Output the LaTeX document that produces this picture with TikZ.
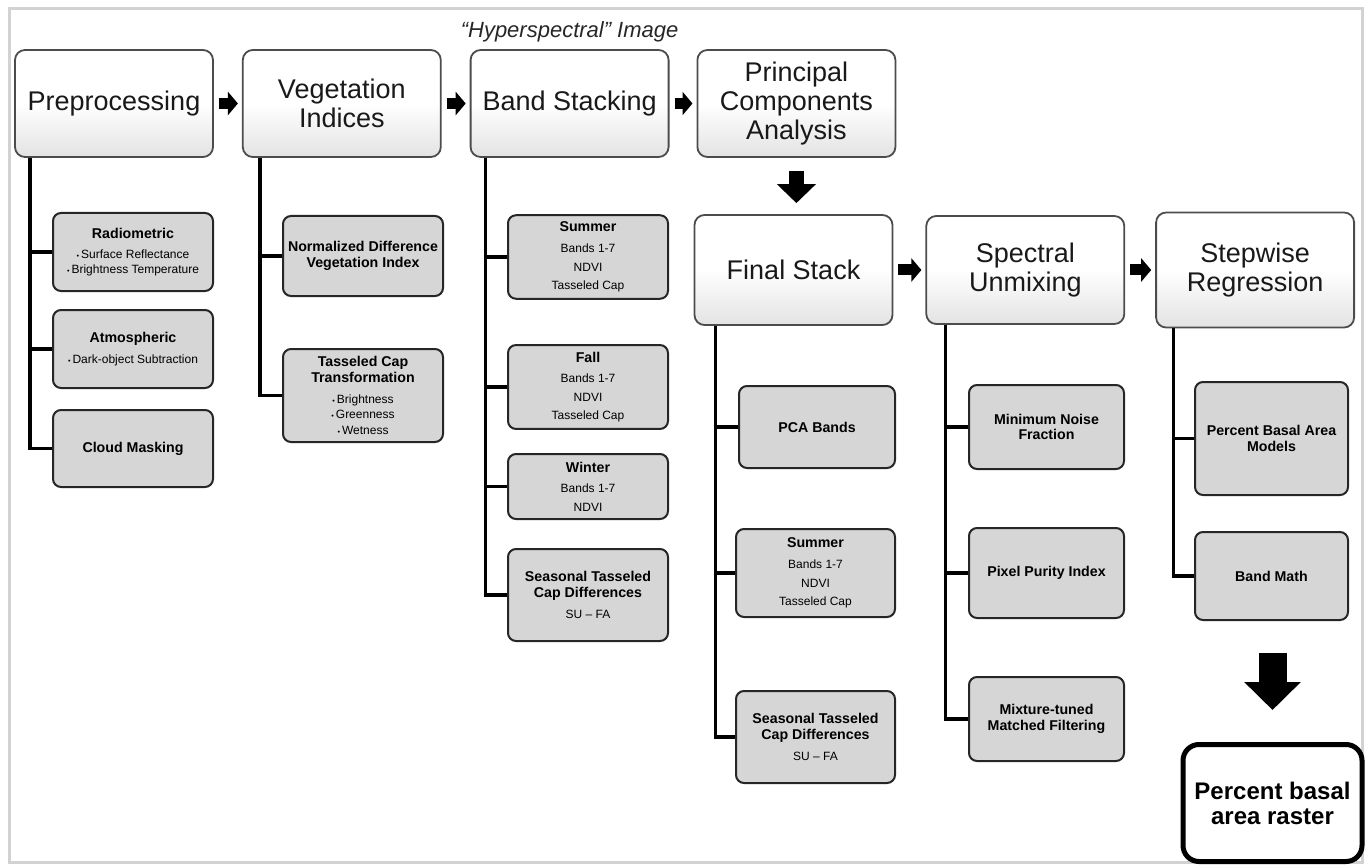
\documentclass[tikz,border=0pt]{standalone}
\usepackage{fontspec}
\setmainfont{Liberation Sans}
\usetikzlibrary{arrows.meta,positioning}

\newcommand\headfont{\fontsize{13.5}{14.5}\selectfont}
\newcommand\subfont{\bfseries\fontsize{7.1}{7.8}\selectfont}
\newcommand\smtxt[1]{{\normalfont\fontsize{6}{7.5}\selectfont #1}}
\newcommand\bul{\scalebox{0.6}{\textbullet}\,}

\begin{document}
\begin{tikzpicture}[x=0.5pt, y=-0.5pt,
    head/.style={rectangle, draw=gray!60!black, line width=0.9pt, rounded corners=5pt, top color=white, bottom color=gray!22, middle color=white, minimum width=99pt, minimum height=53.5pt, align=center, font=\headfont, text=black!90},
    sub/.style={rectangle, draw=black!85, line width=1pt, rounded corners=4pt, fill=gray!32, minimum width=80pt, inner xsep=1pt, align=center, font=\subfont},
    result/.style={rectangle, draw=black, line width=2.5pt, rounded corners=8pt, fill=white, minimum width=89.5pt, minimum height=58.5pt, align=center, font=\bfseries\fontsize{12}{12.5}\selectfont},
    tree/.style={draw, line width=1.7pt},
    sidearrow/.style={draw, line width=5.5pt, -{Triangle[length=5pt, width=11.5pt]}, shorten <=2.5pt, shorten >=2pt},
    downarrow/.style={draw, line width=7.5pt, -{Triangle[length=9.5pt, width=19pt]}, shorten <=6.5pt, shorten >=5.5pt},
    bigarrow/.style={draw, line width=14pt, -{Triangle[length=14pt, width=27.5pt]}}]

    \useasboundingbox (0,0) rectangle (1370,866);
    \draw[gray!35, line width=1.5pt] (9,9) rectangle (1362,862);

    \node [head] (pre) at (114,103.5) {Preprocessing};
    \node [head, right=14pt of pre] (veg) {Vegetation\\Indices};
    \node [head, right=14pt of veg] (bs) {Band Stacking};
    \node [head, right=13.5pt of bs] (pca) {Principal\\Components\\Analysis};
    \node [inner sep=0pt, font=\itshape\fontsize{11}{12}\selectfont, text=black!85, above=3.5pt of bs] (hyp) {“Hyperspectral” Image};

    \node [head, minimum height=55pt] (fin) at (793.5,270) {Final Stack};
    \node [head, minimum height=54pt, right=16pt of fin] (spec) {Spectral\\Unmixing};
    \node [head, minimum height=57.5pt, right=15pt of spec] (sw) {Stepwise\\Regression};

    \node [sub, minimum height=39pt] (rad) at (133,252) {Radiometric\\[2.5pt]\smtxt{\bul Surface Reflectance}\\[-0.5pt]\smtxt{\bul Brightness Temperature}};
    \node [sub, minimum height=39pt] (atm) at (133,349) {Atmospheric\\[2.5pt]\smtxt{\bul Dark-object Subtraction}};
    \node [sub, minimum height=38.5pt] (cloud) at (133,448.5) {Cloud Masking};

    \node [sub, minimum height=40pt] (ndvi) at (363,256) {Normalized Difference\\[0.5pt]Vegetation Index};
    \node [sub, minimum height=46.5pt] (tc) at (363,395.5) {Tasseled Cap\\Transformation\\[2.5pt]\smtxt{\bul Brightness}\\[0pt]\smtxt{\bul Greenness}\\[0pt]\smtxt{\bul Wetness}};

    \node [sub, minimum height=40pt] (sum1) at (588,257) {Summer\\[2.5pt]\smtxt{Bands 1-7}\\[1.5pt]\smtxt{NDVI}\\[1.5pt]\smtxt{Tasseled Cap}};
    \node [sub, minimum height=39pt] (fall) at (588,387) {Fall\\[2.5pt]\smtxt{Bands 1-7}\\[1.5pt]\smtxt{NDVI}\\[1.5pt]\smtxt{Tasseled Cap}};
    \node [sub, minimum height=32.5pt] (win) at (588,486.5) {Winter\\[2.5pt]\smtxt{Bands 1-7}\\[1.5pt]\smtxt{NDVI}};
    \node [sub, minimum height=46pt] (sea1) at (588,595) {Seasonal Tasseled\\Cap Differences\\[2.5pt]\smtxt{SU – FA}};

    \node [sub, minimum width=78pt, minimum height=41pt] (pcab) at (817,427) {PCA Bands};
    \node [sub, minimum width=79.5pt, minimum height=44pt] (sum2) at (815.5,573) {Summer\\[2.5pt]\smtxt{Bands 1-7}\\[1.5pt]\smtxt{NDVI}\\[1.5pt]\smtxt{Tasseled Cap}};
    \node [sub, minimum width=79.5pt, minimum height=46pt] (sea2) at (815.5,737) {Seasonal Tasseled\\Cap Differences\\[2.5pt]\smtxt{SU – FA}};

    \node [sub, minimum width=77.5pt, minimum height=42pt] (mnf) at (1046.5,427) {Minimum Noise\\Fraction};
    \node [sub, minimum width=77.5pt, minimum height=45pt] (ppi) at (1046.5,573) {Pixel Purity Index};
    \node [sub, minimum width=77.5pt, minimum height=42pt] (mtmf) at (1046.5,719) {Mixture-tuned\\Matched Filtering};

    \node [sub, minimum width=76.5pt, minimum height=56.5pt] (pbam) at (1271.5,438.5) {Percent Basal Area\\Models};
    \node [sub, minimum width=76.5pt, minimum height=44pt] (bmath) at (1271.5,576) {Band Math};

    \node [result] (raster) at (1272.5,803) {Percent basal\\area raster};

    \draw [tree] ([xshift=8pt]pre.south west) |- (rad.west);
    \draw [tree] ([xshift=8pt]pre.south west) |- (atm.west);
    \draw [tree] ([xshift=8pt]pre.south west) |- (cloud.west);
    \draw [tree] ([xshift=9pt]veg.south west) |- (ndvi.west);
    \draw [tree] ([xshift=9pt]veg.south west) |- (tc.west);
    \draw [tree] ([xshift=8pt]bs.south west) |- (sum1.west);
    \draw [tree] ([xshift=8pt]bs.south west) |- (fall.west);
    \draw [tree] ([xshift=8pt]bs.south west) |- (win.west);
    \draw [tree] ([xshift=8pt]bs.south west) |- (sea1.west);
    \draw [tree] ([xshift=11pt]fin.south west) |- (pcab.west);
    \draw [tree] ([xshift=11pt]fin.south west) |- (sum2.west);
    \draw [tree] ([xshift=11pt]fin.south west) |- (sea2.west);
    \draw [tree] ([xshift=10pt]spec.south west) |- (mnf.west);
    \draw [tree] ([xshift=10pt]spec.south west) |- (ppi.west);
    \draw [tree] ([xshift=10pt]spec.south west) |- (mtmf.west);
    \draw [tree] ([xshift=9pt]sw.south west) |- (pbam.west);
    \draw [tree] ([xshift=9pt]sw.south west) |- (bmath.west);

    \path [sidearrow] (pre.east) -- (veg.west);
    \path [sidearrow] (veg.east) -- (bs.west);
    \path [sidearrow] (bs.east) -- (pca.west);
    \path [sidearrow] (fin.east) -- (spec.west);
    \path [sidearrow] (spec.east) -- (sw.west);
    \path [downarrow] (pca.south) -- (pca.south |- fin.north);
    \path [bigarrow, shorten <=162.5pt, shorten >=16pt] (raster.north |- sw.south) -- (raster.north);
\end{tikzpicture}
\end{document}
